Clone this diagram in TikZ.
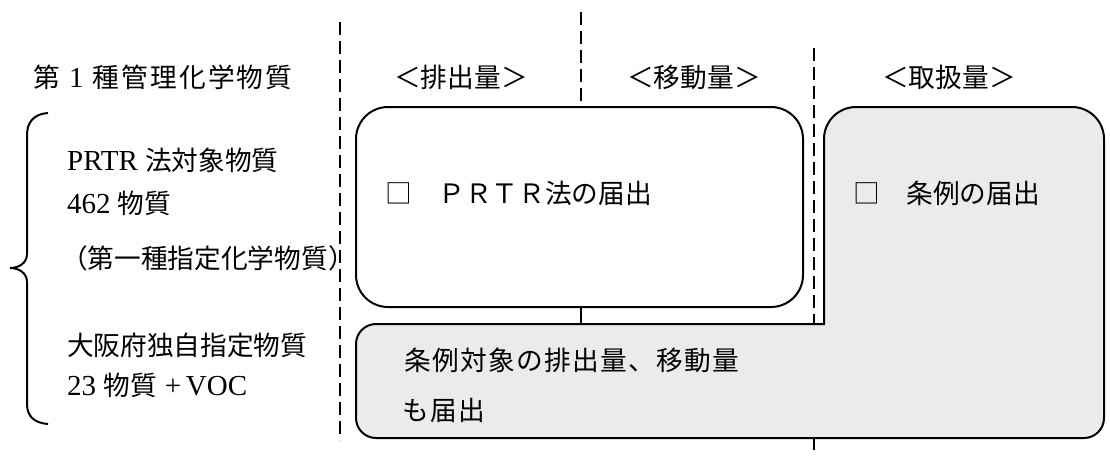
\documentclass[tikz,border=0pt]{standalone}
\usepackage{fontspec}
\setmainfont{Liberation Serif}
\newfontfamily\cjk{Noto Sans CJK JP}[Scale=0.92]
\newfontfamily\cjkwide{Noto Sans CJK JP}[Scale=0.92, LetterSpace=8]
\newfontfamily\cjkmid{Noto Sans CJK JP}[Scale=0.92, LetterSpace=5]
\definecolor{boxgray}{RGB}{235,235,235}
\begin{document}
\begin{tikzpicture}[x=1pt,y=-1pt,
  font=\fontsize{29}{34}\selectfont,
  txt/.style={inner sep=0pt, anchor=base west},
  hdr/.style={inner sep=0pt, anchor=base},
  sepline/.style={line width=2.1pt, dash pattern=on 13pt off 6pt},
  joinline/.style={line width=2pt},
  wbox/.style={draw, line width=2pt, fill=white, rounded corners=32pt, inner sep=0pt},
  gbox/.style={draw, line width=2pt, fill=boxgray},
  bracestyle/.style={line width=2pt}]
\useasboundingbox (0,0) rectangle (1110,456);

% gray L-shaped area (ordinance)
\draw[gbox] (356,380) [rounded corners=20pt] -- (356,324) -- (600,324)
  [sharp corners] -- (824,324) -- (824,200)
  [rounded corners=32pt] -- (824,107) -- (1104,107) -- (1104,300)
  [rounded corners=20pt] -- (1104,438) -- (356,438) -- cycle;

% white PRTR box
\node[wbox, minimum width=447pt, minimum height=200pt] (prtr) at (579.5,207) {};

% coordinates for separators
\coordinate (d1top) at (340,22);
\coordinate (d1bot) at (340,440);
\coordinate (d2top) at (581,12);
\coordinate (d3top) at (814,48);
\coordinate (d3bot) at (814,324);
\coordinate (graytop) at (581,324);
\coordinate (graybot) at (814,438);
\coordinate (tailend) at (814,450);

\draw[sepline] (d1top) -- (d1bot);
\draw[sepline] (d2top) -- (d2top |- prtr.north);
\draw[sepline] (d3top) -- (d3bot);
\draw[joinline] (prtr.south -| d2top) -- (graytop);
\draw[joinline] (graybot) -- (tailend);

% brace
\draw[bracestyle] (48,113) .. controls (34,114) and (27,122) .. (27,135) -- (27,254)
  .. controls (27,263) and (19,268) .. (10,268)
  .. controls (19,268) and (27,273) .. (27,282) -- (27,404)
  .. controls (27,416) and (34,423) .. (48,424);

% headers
\node[txt] (title) at (33,87) {{\cjk 第}\hspace{2pt} 1 \hspace{2pt}{\cjkwide 種管理化学物質}};
\node[hdr] (h1) at (461,87) {\cjk ＜排出量＞};
\node[hdr] (h2) at (694,87) {\cjk ＜移動量＞};
\node[hdr] (h3) at (949,87) {\cjk ＜取扱量＞};

% left labels
\node[txt] (l1) at (67,170) {PRTR {\cjk 法対象物質}};
\node[txt] (l2) at (67,213) {462 {\cjk 物質}};
\node[txt] (l3) at (61,268) {\cjk （第一種指定化学物質）};
\node[txt] (l4) at (67,355) {\cjk 大阪府独自指定物質};
\node[txt] (l5) at (67,395) {23 {\cjk 物質}\hspace{8pt}+\,VOC};

% box texts
\node[txt] (b1) at (385,203) {\cjk □　ＰＲＴＲ法の届出};
\node[txt] (b2) at (853,203) {\cjk □　条例の届出};
\node[txt] (b3) at (404,370) {\cjkmid 条例対象の排出量、移動量};
\node[txt] (b4) at (402,420) {\cjkmid も届出};
\end{tikzpicture}
\end{document}
